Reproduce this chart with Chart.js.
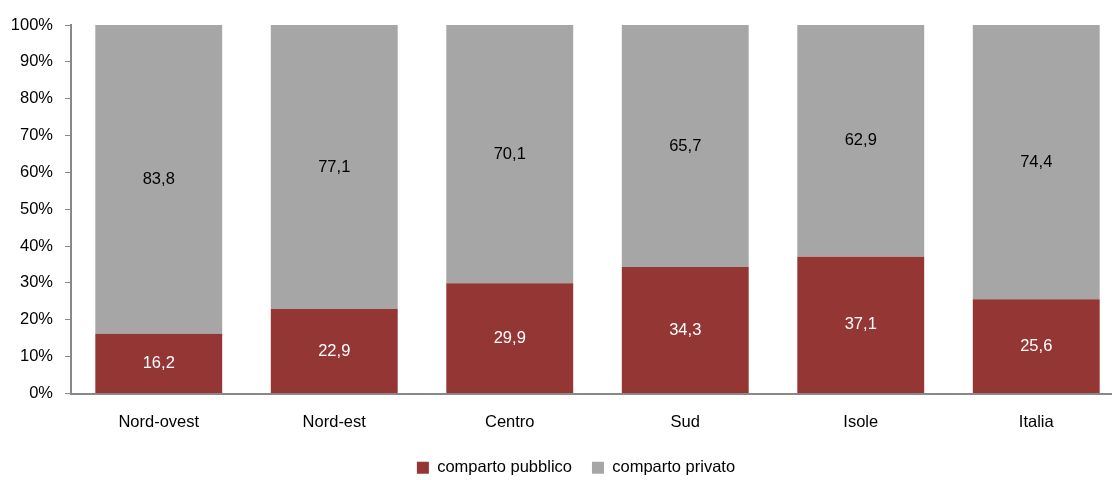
<!DOCTYPE html>
<html>
<head>
<meta charset="utf-8">
<script src="https://cdn.jsdelivr.net/npm/chart.js@4"></script>
<style>
html,body{margin:0;padding:0;background:#fff;overflow:hidden;}
#wrap{width:1124px;height:480px;position:relative;}
</style>
</head>
<body>
<div id="wrap"><canvas id="c"></canvas></div>
<script>
const categories = ['Nord-ovest','Nord-est','Centro','Sud','Isole','Italia'];
const pubblico = [16.2, 22.9, 29.9, 34.3, 37.1, 25.6];
const privato = [83.8, 77.1, 70.1, 65.7, 62.9, 74.4];
const seriesNames = ['comparto pubblico','comparto privato'];
const yTicks = [0,10,20,30,40,50,60,70,80,90,100];

const FONT = "'Liberation Sans', Arial, sans-serif";
const FS = 16.5;

const labelPlugin = {
  id: 'barLabels',
  afterLayout(chart) {
    // shift legend so it is centred on the visible window (canvas is wider than the window)
    chart.legend.left += 14;
    chart.legend.right += 14;
  },
  afterDatasetsDraw(chart) {
    const ctx = chart.ctx;
    ctx.save();
    ctx.font = FS + 'px ' + FONT;
    ctx.textAlign = 'center';
    ctx.textBaseline = 'middle';
    chart.data.datasets.forEach((ds, i) => {
      const meta = chart.getDatasetMeta(i);
      ctx.fillStyle = ds.labelColor;
      meta.data.forEach((el, j) => {
        const v = ds.data[j];
        const y = (el.y + el.base) / 2;
        ctx.fillText(v.toFixed(1).replace('.', ','), el.x, y);
      });
    });
    ctx.restore();
  }
};

new Chart(document.getElementById('c'), {
  type: 'bar',
  data: {
    labels: categories,
    datasets: [
      { label: seriesNames[0], data: pubblico, backgroundColor: '#943634', labelColor: '#ffffff',
        categoryPercentage: 1, barPercentage: 0.723 },
      { label: seriesNames[1], data: privato, backgroundColor: '#A6A6A6', labelColor: '#000000',
        categoryPercentage: 1, barPercentage: 0.723 }
    ]
  },
  options: {
    responsive: true,
    maintainAspectRatio: false,
    animation: false,
    layout: { padding: { left: 0, right: 0, top: 25, bottom: -6 } },
    plugins: {
      legend: {
        position: 'bottom',
        labels: { font: { family: FONT, size: FS }, color: '#000', boxWidth: 12, boxHeight: 12, padding: 20 }
      },
      tooltip: { enabled: false }
    },
    scales: {
      x: {
        stacked: true,
        afterFit(scale) { scale.height = 46; },
        grid: { display: false },
        border: { display: true, color: '#888888', width: 2 },
        ticks: { font: { family: FONT, size: FS }, color: '#000', padding: 11 }
      },
      y: {
        stacked: true,
        min: 0, max: 100,
        afterFit(scale) { scale.width = 71; },
        afterBuildTicks(scale) { scale.ticks = yTicks.map(v => ({ value: v })); },
        grid: { display: true, drawOnChartArea: false, drawTicks: true, tickLength: 6, color: '#888888' },
        border: { display: true, color: '#888888', width: 2 },
        ticks: { font: { family: FONT, size: FS }, color: '#000', padding: 12,
                 callback: v => v + '%' }
      }
    }
  },
  plugins: [labelPlugin]
});
</script>
</body>
</html>
